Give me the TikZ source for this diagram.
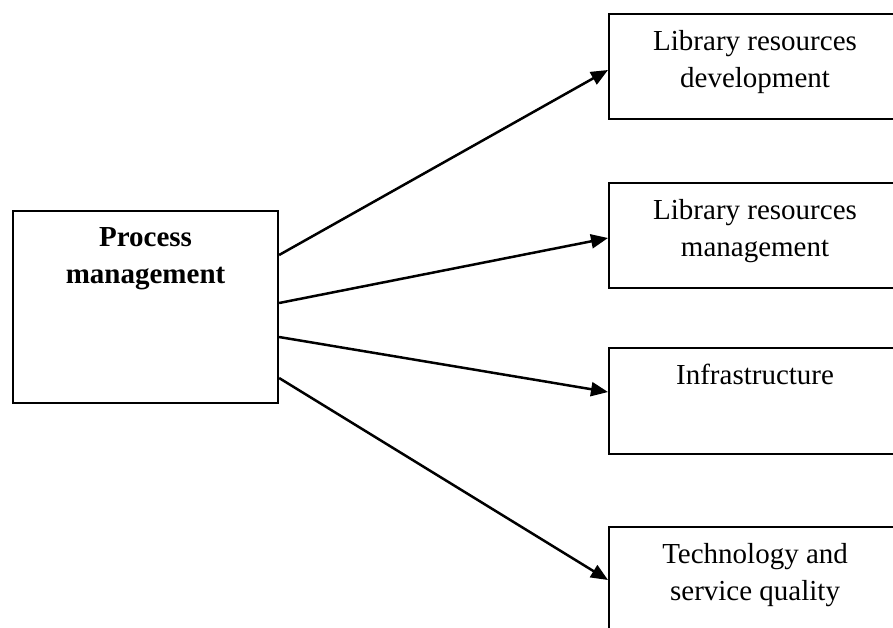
\documentclass[tikz,border=0pt]{standalone}
\usepackage{fontspec}
\setmainfont{Liberation Serif}
\usetikzlibrary{arrows.meta}
\begin{document}
\begin{tikzpicture}[x=1pt,y=-1pt,
  every node/.style={font=\fontsize{29}{37}\selectfont},
  box/.style={draw,line width=2.1pt,rectangle,anchor=north west,inner sep=0pt,
    minimum width=#1},
  box/.default=292pt,
  caption/.style={anchor=north,inner sep=0pt,align=center,yshift=-17pt},
  link/.style={line width=2.5pt,-{Triangle[length=17pt,width=14pt]}}]
\useasboundingbox (0,0) rectangle (893,627);
% central box
\node[box=265pt,minimum height=192pt,
  label={[caption]north:\textbf{Process}\\\textbf{management}}] (pm) at (12,210) {};
% target boxes
\node[box,minimum height=105pt,
  label={[caption]north:Library resources\\development}] (dev) at (608,13) {};
\node[box,minimum height=105pt,
  label={[caption]north:Library resources\\management}] (man) at (608,182) {};
\node[box,minimum height=106pt,
  label={[caption]north:Infrastructure}] (inf) at (608,347) {};
\node[box,minimum height=115pt,
  label={[caption]north:Technology and\\service quality}] (tec) at (608,526) {};
% connectors
\draw[link] ([yshift=-45pt]pm.north east) -- ([yshift=-57pt]dev.north west);
\draw[link] ([yshift=-93pt]pm.north east) -- ([yshift=-56pt]man.north west);
\draw[link] ([yshift=-127pt]pm.north east) -- ([yshift=-45pt]inf.north west);
\draw[link] ([yshift=-168pt]pm.north east) -- ([yshift=-54pt]tec.north west);
\end{tikzpicture}
\end{document}
